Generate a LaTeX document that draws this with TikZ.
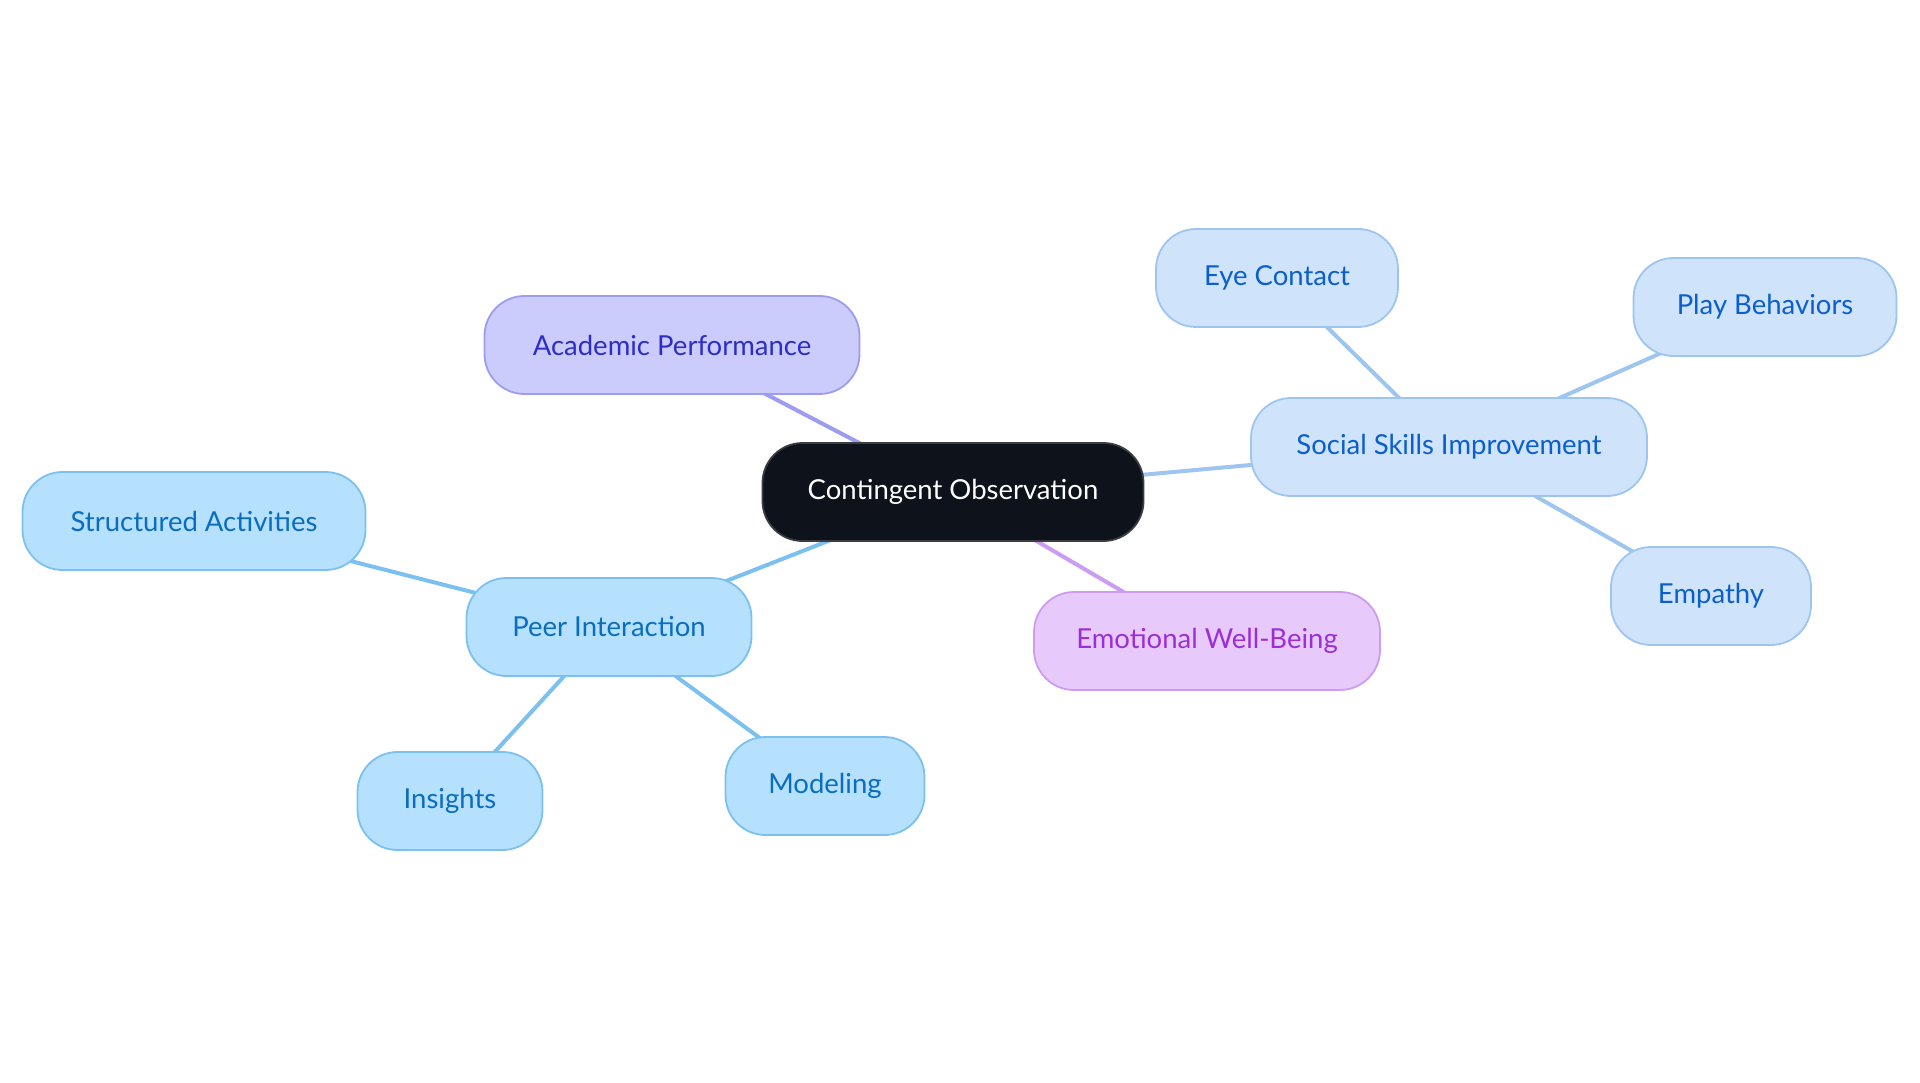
\documentclass[tikz,border=0pt]{standalone}
\usepackage{fontspec}
\setmainfont{Lato}
\usetikzlibrary{backgrounds}
\definecolor{cfill}{HTML}{0D121B}
\definecolor{cline}{HTML}{3A3D42}
\definecolor{afill}{HTML}{CBCBFC}
\definecolor{aline}{HTML}{9C9CF2}
\definecolor{atext}{HTML}{2D2DC8}
\definecolor{sfill}{HTML}{CFE3FB}
\definecolor{sline}{HTML}{9EC5F0}
\definecolor{stext}{HTML}{0B5FCC}
\definecolor{pfill}{HTML}{B5E0FE}
\definecolor{pline}{HTML}{7CC0F0}
\definecolor{ptext}{HTML}{0A6DBF}
\definecolor{efill}{HTML}{E8C9FC}
\definecolor{eline}{HTML}{CC9CF2}
\definecolor{etext}{HTML}{9A2FD8}
\begin{document}
\begin{tikzpicture}[x=1pt,y=-1pt,
  box/.style={rectangle, rounded corners=40pt, line width=1.8pt, minimum height=98pt, inner sep=0pt, font=\fontsize{27.5}{32}\selectfont},
  centerbox/.style={box, fill=cfill, draw=cline, text=white},
  acbox/.style={box, fill=afill, draw=aline, text=atext},
  socbox/.style={box, fill=sfill, draw=sline, text=stext},
  peerbox/.style={box, fill=pfill, draw=pline, text=ptext},
  emobox/.style={box, fill=efill, draw=eline, text=etext},
  link/.style={line width=4pt}
]
\useasboundingbox (0,0) rectangle (1920,1083);
\node[centerbox, minimum width=381pt] (co) at (953,492) {Contingent Observation};
\node[acbox, minimum width=375pt] (ap) at (672,345) {Academic Performance};
\node[socbox, minimum width=396pt] (ss) at (1449,447) {Social Skills Improvement};
\node[socbox, minimum width=242pt] (ec) at (1277,278) {Eye Contact};
\node[socbox, minimum width=263pt] (pb) at (1765,307) {Play Behaviors};
\node[socbox, minimum width=200pt] (em) at (1711,596) {Empathy};
\node[emobox, minimum width=346pt] (ew) at (1207,641) {Emotional Well-Being};
\node[peerbox, minimum width=285pt] (pi) at (609,627) {Peer Interaction};
\node[peerbox, minimum width=343pt] (sa) at (194,521) {Structured Activities};
\node[peerbox, minimum width=185pt] (in) at (450,801) {Insights};
\node[peerbox, minimum width=199pt] (mo) at (825,786) {Modeling};
\begin{scope}[on background layer]
\draw[link, aline] (co.center) -- (ap.center);
\draw[link, sline] (co.center) -- (ss.center);
\draw[link, eline] (co.center) -- (ew.center);
\draw[link, pline] (co.center) -- (pi.center);
\draw[link, sline] (ss.center) -- (ec.center);
\draw[link, sline] (ss.center) -- (pb.center);
\draw[link, sline] (ss.center) -- (em.center);
\draw[link, pline] (pi.center) -- (sa.center);
\draw[link, pline] (pi.center) -- (in.center);
\draw[link, pline] (pi.center) -- (mo.center);
\end{scope}
\end{tikzpicture}
\end{document}
